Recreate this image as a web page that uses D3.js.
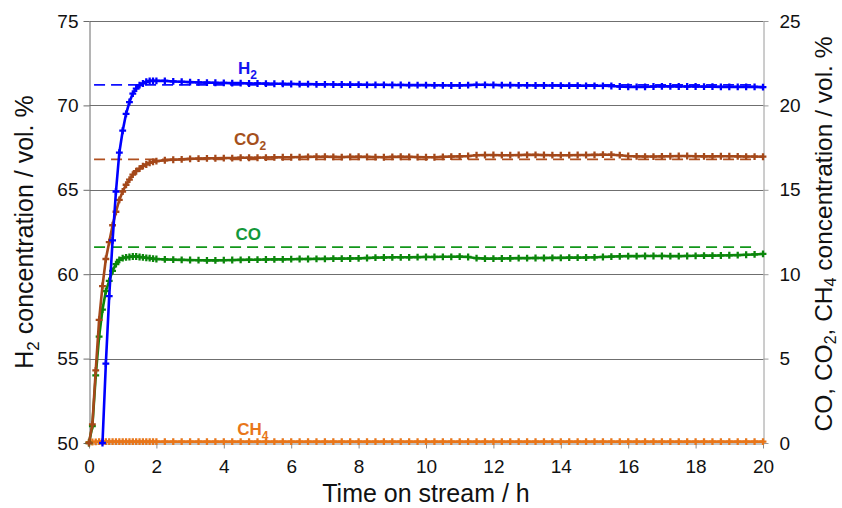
<!DOCTYPE html>
<html>
<head>
<meta charset="utf-8">
<script src="https://cdn.jsdelivr.net/npm/d3@7"></script>
<style>
  body { margin: 0; background: #fff; }
  text { font-family: "Liberation Sans", Arial, sans-serif; }
</style>
</head>
<body>
<script>
// time on stream, h (0-2 h every 0.1 h, then every 0.25 h)
const hours = [
  0, 0.1, 0.2, 0.3, 0.4, 0.5, 0.6, 0.7, 0.8, 0.9, 1.0, 1.1, 1.2, 1.3, 1.4, 1.5, 1.6, 1.7, 1.8, 1.9, 2.0,
  2.25, 2.5, 2.75, 3, 3.25, 3.5, 3.75, 4,
  4.25, 4.5, 4.75, 5, 5.25, 5.5, 5.75, 6,
  6.25, 6.5, 6.75, 7, 7.25, 7.5, 7.75, 8,
  8.25, 8.5, 8.75, 9, 9.25, 9.5, 9.75, 10,
  10.25, 10.5, 10.75, 11, 11.25, 11.5, 11.75, 12,
  12.25, 12.5, 12.75, 13, 13.25, 13.5, 13.75, 14,
  14.25, 14.5, 14.75, 15, 15.25, 15.5, 15.75, 16,
  16.25, 16.5, 16.75, 17, 17.25, 17.5, 17.75, 18,
  18.25, 18.5, 18.75, 19, 19.25, 19.5, 19.75, 20
]

// H2, vol.% (left axis)
const h2 = [
  null, null, null, null, 50.0, 54.7, 58.7, 62.0, 64.9, 67.2, 68.5, 69.5, 70.2, 70.7, 71.0, 71.2, 71.3, 71.4, 71.45, 71.45, 71.45,
  71.45, 71.42, 71.40, 71.38, 71.36, 71.35, 71.34, 71.33,
  71.32, 71.32, 71.30, 71.30, 71.29, 71.28, 71.28, 71.27,
  71.26, 71.26, 71.25, 71.25, 71.24, 71.24, 71.23, 71.23,
  71.22, 71.22, 71.22, 71.21, 71.21, 71.20, 71.20, 71.20,
  71.19, 71.19, 71.18, 71.18, 71.20, 71.22, 71.22, 71.21,
  71.20, 71.20, 71.19, 71.19, 71.18, 71.18, 71.18, 71.17,
  71.17, 71.17, 71.16, 71.16, 71.16, 71.15, 71.12, 71.10,
  71.10, 71.10, 71.12, 71.13, 71.13, 71.12, 71.12, 71.12,
  71.11, 71.11, 71.10, 71.10, 71.10, 71.10, 71.10, 71.08
]

// CO2, vol.% (right axis)
const co2 = [
  0, 1.1, 4.3, 7.3, 9.3, 10.9, 11.9, 12.9, 13.7, 14.4, 14.9, 15.3, 15.6, 15.9, 16.1, 16.25, 16.4, 16.5, 16.6, 16.65, 16.7,
  16.75, 16.78, 16.80, 16.83, 16.85, 16.86, 16.87, 16.88,
  16.88, 16.90, 16.90, 16.90, 16.91, 16.92, 16.93, 16.93,
  16.94, 16.95, 16.96, 16.96, 16.95, 16.94, 16.95, 16.96,
  16.95, 16.94, 16.93, 16.95, 16.96, 16.95, 16.94, 16.93,
  16.93, 16.95, 16.97, 16.98, 17.00, 17.05, 17.06, 17.06,
  17.05, 17.05, 17.06, 17.07, 17.07, 17.06, 17.05, 17.05,
  17.05, 17.06, 17.06, 17.07, 17.08, 17.08, 17.05, 17.00,
  16.98, 16.97, 16.97, 16.98, 16.99, 17.00, 17.00, 16.99,
  16.98, 16.98, 16.99, 16.99, 16.98, 16.97, 16.97, 16.96
]

// CO, vol.% (right axis)
const co = [
  0, 1.0, 4.0, 6.3, 7.9, 9.0, 9.6, 10.2, 10.6, 10.85, 10.95, 11.0, 11.02, 11.05, 11.05, 11.02, 11.0, 10.97, 10.95, 10.92, 10.9,
  10.88, 10.86, 10.85, 10.84, 10.83, 10.82, 10.82, 10.83,
  10.84, 10.85, 10.86, 10.86, 10.87, 10.88, 10.88, 10.89,
  10.90, 10.90, 10.91, 10.91, 10.92, 10.92, 10.93, 10.94,
  10.96, 10.98, 10.99, 11.00, 11.00, 11.00, 11.01, 11.02,
  11.02, 11.03, 11.03, 11.04, 11.02, 10.95, 10.92, 10.92,
  10.93, 10.94, 10.95, 10.95, 10.96, 10.96, 10.97, 10.97,
  10.98, 10.98, 10.99, 11.00, 11.02, 11.04, 11.06, 11.07,
  11.07, 11.08, 11.08, 11.08, 11.07, 11.07, 11.08, 11.09,
  11.10, 11.10, 11.11, 11.12, 11.13, 11.15, 11.17, 11.20
]

// CH4, vol.% (right axis)
const ch4 = [
  0.05, 0.06, 0.07, 0.08, 0.08, 0.08, 0.08, 0.08, 0.08, 0.08, 0.08, 0.08, 0.08, 0.08, 0.08, 0.08, 0.08, 0.08, 0.08, 0.08, 0.08,
  0.08, 0.08, 0.08, 0.08, 0.08, 0.08, 0.08, 0.08,
  0.08, 0.08, 0.08, 0.08, 0.08, 0.08, 0.08, 0.08,
  0.08, 0.08, 0.08, 0.08, 0.08, 0.08, 0.08, 0.08,
  0.08, 0.08, 0.08, 0.08, 0.08, 0.08, 0.08, 0.08,
  0.08, 0.08, 0.08, 0.08, 0.08, 0.08, 0.08, 0.08,
  0.08, 0.08, 0.08, 0.08, 0.08, 0.08, 0.08, 0.08,
  0.08, 0.08, 0.08, 0.08, 0.08, 0.08, 0.08, 0.08,
  0.08, 0.08, 0.08, 0.08, 0.08, 0.08, 0.08, 0.08,
  0.08, 0.08, 0.08, 0.08, 0.08, 0.08, 0.08, 0.08
]

// equilibrium levels (dashed)
const eqH2 = 71.22
const eqCO2 = 16.8
const eqCO = 11.6

const xTicks = [0, 2, 4, 6, 8, 10, 12, 14, 16, 18, 20]
const leftTicks = [50, 55, 60, 65, 70, 75]
const rightTicks = [0, 5, 10, 15, 20, 25]

const width = 842
const height = 508
const m = {top: 21, right: 79, bottom: 65, left: 89}

const svg = d3.select("body").append("svg")
  .attr("width", width)
  .attr("height", height)

const x = d3.scaleLinear().domain([0, 20]).range([m.left, width - m.right])
const yL = d3.scaleLinear().domain([50, 75]).range([height - m.bottom, m.top])
const yR = d3.scaleLinear().domain([0, 25]).range([height - m.bottom, m.top])

const px = v => Math.round(v) + 0.5

// grid lines
svg.append("g")
  .selectAll("line")
  .data(leftTicks.slice(1))
  .enter()
  .append("line")
  .attr("x1", px(x(0)))
  .attr("x2", px(x(20)))
  .attr("y1", d => px(yL(d)))
  .attr("y2", d => px(yL(d)))
  .attr("stroke", "#6f6f6f")

// left axis
const gl = svg.append("g").attr("transform", `translate(${px(x(0))},0)`)
  .call(d3.axisLeft(yL).tickValues(leftTicks).tickSize(6).tickPadding(5).tickSizeOuter(0))
gl.select(".domain").attr("stroke", "#6a6a6a")
gl.selectAll(".tick line").attr("stroke", "#6a6a6a")
gl.selectAll(".tick text").attr("font-size", 19).attr("fill", "#111")
  .attr("font-family", "Liberation Sans, Arial, sans-serif")

// right axis
const gr = svg.append("g").attr("transform", `translate(${px(x(20))},0)`)
  .call(d3.axisRight(yR).tickValues(rightTicks).tickSize(5).tickPadding(11).tickSizeOuter(0))
gr.select(".domain").attr("stroke", "#9a9a9a")
gr.selectAll(".tick line").attr("stroke", "#9a9a9a")
gr.selectAll(".tick text").attr("font-size", 19).attr("fill", "#111")
  .attr("font-family", "Liberation Sans, Arial, sans-serif")

// bottom axis
const gb = svg.append("g").attr("transform", `translate(0,${px(yL(50))})`)
  .call(d3.axisBottom(x).tickValues(xTicks).tickFormat(d3.format("d")).tickSize(5).tickPadding(11).tickSizeOuter(0))
gb.select(".domain").attr("stroke", "#8a8a8a")
gb.selectAll(".tick line").attr("stroke", "#8a8a8a")
gb.selectAll(".tick text").attr("font-size", 19).attr("fill", "#111")
  .attr("font-family", "Liberation Sans, Arial, sans-serif")

// dashed equilibrium lines
const dashed = [
  {v: eqH2, y: yL, color: "#1010ff"},
  {v: eqCO2, y: yR, color: "#b05020"},
  {v: eqCO, y: yR, color: "#12961a"}
]
svg.append("g")
  .selectAll("line")
  .data(dashed)
  .enter()
  .append("line")
  .attr("x1", x(0.15))
  .attr("x2", x(19.8))
  .attr("y1", d => d.y(d.v))
  .attr("y2", d => d.y(d.v))
  .attr("stroke", d => d.color)
  .attr("stroke-width", 1.8)
  .attr("stroke-dasharray", "11,6")

const series = [
  {name: "CH4", vals: ch4, y: yR, color: "#e8761a"},
  {name: "CO", vals: co, y: yR, color: "#0b860b"},
  {name: "CO2", vals: co2, y: yR, color: "#a4481a"},
  {name: "H2", vals: h2, y: yL, color: "#0000ff"}
]

const marker = d3.symbol().type(d3.symbolCross).size(26)

series.forEach(s => {
  const pts = hours.map((t, i) => ({t: t, v: s.vals[i]})).filter(d => d.v != null)
  const line = d3.line().x(d => x(d.t)).y(d => s.y(d.v))
  svg.append("path")
    .datum(pts)
    .attr("d", line)
    .attr("fill", "none")
    .attr("stroke", s.color)
    .attr("stroke-width", 2.6)
  svg.append("g")
    .selectAll("path")
    .data(pts)
    .enter()
    .append("path")
    .attr("d", marker)
    .attr("transform", d => `translate(${x(d.t)},${s.y(d.v)})`)
    .attr("fill", s.color)
})

// series labels
const labels = [
  {main: "H", sub: "2", t: 4.42, v: 71.86, y: yL, color: "#1414f0"},
  {main: "CO", sub: "2", t: 4.3, v: 17.65, y: yR, color: "#a5501c"},
  {main: "CO", sub: "", t: 4.35, v: 12.0, y: yR, color: "#13983a"},
  {main: "CH", sub: "4", t: 4.4, v: 0.5, y: yR, color: "#e8761a"}
]
labels.forEach(l => {
  const t = svg.append("text")
    .attr("x", x(l.t))
    .attr("y", l.y(l.v))
    .attr("font-size", 17)
    .attr("font-weight", "bold")
    .attr("fill", l.color)
    .text(l.main)
  if (l.sub) {
    t.append("tspan").attr("dy", 5).attr("font-size", 12).text(l.sub)
  }
})

// axis titles
svg.append("text")
  .attr("x", (x(0) + x(20)) / 2)
  .attr("y", 502)
  .attr("text-anchor", "middle")
  .attr("font-size", 25)
  .attr("fill", "#111")
  .text("Time on stream / h")

const lt = svg.append("text")
  .attr("transform", `translate(33,${(yL(50) + yL(75)) / 2}) rotate(-90)`)
  .attr("text-anchor", "middle")
  .attr("font-size", 25)
  .attr("fill", "#111")
lt.append("tspan").text("H")
lt.append("tspan").attr("dy", 6).attr("font-size", 17).text("2")
lt.append("tspan").attr("dy", -6).text(" concentration / vol. %")

const rt = svg.append("text")
  .attr("transform", `translate(832,${(yL(50) + yL(75)) / 2 + 2}) rotate(-90)`)
  .attr("text-anchor", "middle")
  .attr("font-size", 24.5)
  .attr("fill", "#111")
rt.append("tspan").text("CO, CO")
rt.append("tspan").attr("dy", 4).attr("font-size", 16).text("2")
rt.append("tspan").attr("dy", -4).text(", CH")
rt.append("tspan").attr("dy", 4).attr("font-size", 16).text("4")
rt.append("tspan").attr("dy", -4).text(" concentration / vol. %")
</script>
</body>
</html>
